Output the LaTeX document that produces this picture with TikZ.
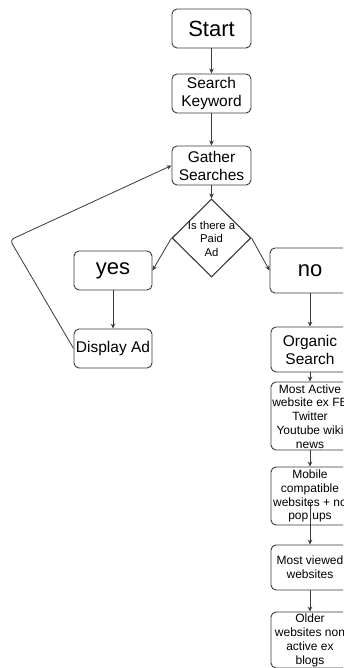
\documentclass[tikz,border=0pt]{standalone}
\usepackage{fontspec}
\setmainfont{Liberation Sans}
\usetikzlibrary{arrows.meta,shapes.geometric,calc}
\definecolor{ln}{HTML}{3A3A3A}
\tikzset{
  box/.style={draw=ln, line width=0.9pt, rounded corners=5pt, inner sep=0pt, fill=white},
  dia/.style={draw=ln, line width=1.1pt, diamond, inner sep=0pt, minimum width=79pt, minimum height=78pt},
  big/.style={font=\fontsize{22}{26}\selectfont},
  mid/.style={font=\fontsize{15.5}{18}\selectfont, align=center},
  sml/.style={font=\fontsize{12}{13.8}\selectfont, align=center},
  tiny/.style={font=\fontsize{11.3}{13.5}\selectfont, align=center},
  conn/.style={draw=ln, line width=0.8pt, -{Stealth[length=5pt,width=4.5pt]}}
}
\begin{document}
\begin{tikzpicture}[x=1pt,y=-1pt]
\clip (0,0) rectangle (343,668);
\fill[white] (0,0) rectangle (343,668);
% left/center column
\node[box, big, minimum width=79pt, minimum height=39pt] (start) at (211.5,28.5) {Start};
\node[box, mid, minimum width=79pt, minimum height=39pt] (kw) at (211.5,93.5) {Search\\Keyword};
\node[box, mid, minimum width=79pt, minimum height=39pt] (gs) at (211.5,165.5) {Gather\\Searches};
\node[dia] (q) at (211.5,238) {};
\node[tiny] (qt) at (211.5,238.5) {Is there a\\Paid\\Ad};
\node[box, big, minimum width=78pt, minimum height=39pt] (yes) at (113,270.5) {yes};
\node[box, mid, minimum width=78pt, minimum height=39pt] (disp) at (113,348.5) {Display Ad};
% right column
\node[box, big, minimum width=80pt, minimum height=45pt] (no) at (310,270.5) {no};
\node[box, mid, minimum width=78pt, minimum height=45pt] (org) at (310,349.5) {Organic\\Search};
\node[box, minimum width=78pt, minimum height=68pt] (act) at (310,416) {};
\node[sml] (actt) at (310,416.5) {Most Active\\website ex FB\\Twitter\\Youtube wiki\\news};
\node[box, minimum width=78pt, minimum height=58pt] (mob) at (310,496) {};
\node[box, sml, minimum width=78pt, minimum height=45pt] (view) at (310,567.5) {Most viewed\\websites};
\node[box, minimum width=78pt, minimum height=56pt] (old) at (310,640) {};
\node[sml] (oldt) at (310,640.5) {Older\\websites non\\active ex\\blogs};
% connectors
\draw[conn] (start) -- (kw);
\draw[conn] (kw) -- (gs);
\draw[conn] (gs) -- (q.north);
\draw[conn] (q.west) -- (yes.east);
\draw[conn] (q.east) -- (no.west);
\draw[conn] (yes) -- (disp);
\coordinate (lc) at (10,240);
\draw[conn, rounded corners=4pt] (disp.west) -- (lc) -- (gs.west);
\draw[conn] (no) -- (org);
\draw[conn] (org) -- (act);
\draw[conn] (act) -- (mob);
\draw[conn] ($(mob.south)+(0,-22)$) -- (view.north);
\node[sml] (mobt) at (310,496) {Mobile\\compatible\\websites + no\\pop\hspace{4pt}ups};
\draw[conn] (view) -- (old);
\end{tikzpicture}
\end{document}
